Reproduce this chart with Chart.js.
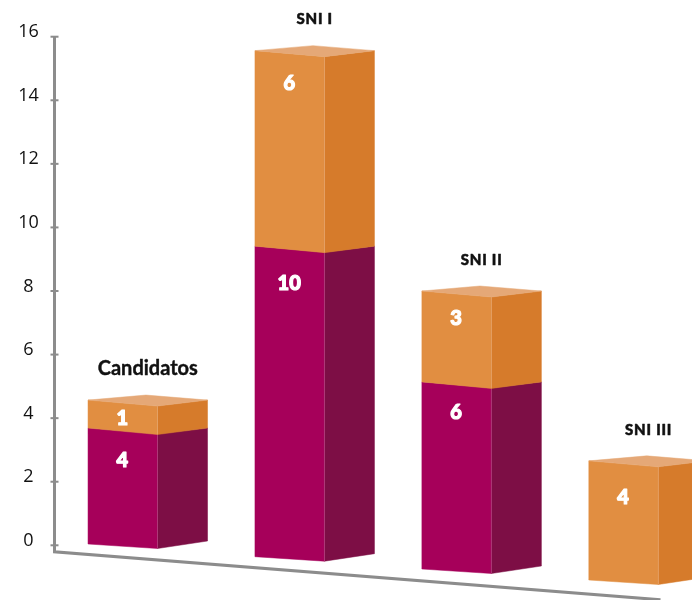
<!DOCTYPE html>
<html>
<head>
<meta charset="utf-8">
<style>
  html, body { margin: 0; background: #fff; overflow: hidden; }
  canvas { display: block; }
</style>
<script src="https://cdn.jsdelivr.net/npm/chart.js@4"></script>
</head>
<body>
<canvas id="myChart" width="692" height="600"></canvas>
<script>
// data
const categories = ["Candidatos", "SNI I", "SNI II", "SNI III"];
const lowerValues = [4, 10, 6, 0];
const upperValues = [1, 6, 3, 4];
const yTicks = [0, 2, 4, 6, 8, 10, 12, 14, 16];

// the picture is in perspective: each bar sits lower and its segments are scaled a little
const barShift = [-1.3, 11.4, 23.7, 34.7];
const lowerScale = [0.912, 0.977, 0.981, 1];
const upperScale = [0.88, 1.025, 0.953, 0.937];
// how far below the top of its segment each number sits
const lowerLabelDrop = [32.5, 37, 31, 0];
const upperLabelDrop = [18, 33, 28, 37];

const sideWidth = 50;

function poly(ctx, pts, color) {
  ctx.beginPath();
  pts.forEach((p, i) => i ? ctx.lineTo(p[0], p[1]) : ctx.moveTo(p[0], p[1]));
  ctx.closePath();
  ctx.fillStyle = color;
  ctx.strokeStyle = color;
  ctx.lineWidth = 0.5;
  ctx.fill();
  ctx.stroke();
}

const box3d = {
  id: "box3d",
  // the plugin draws the faces itself, from the positions of the bar elements
  beforeDatasetDraw() { return false; },
  afterDatasetsDraw(chart) {
    const ctx = chart.ctx;
    const y = chart.scales.y;
    const zero = y.getPixelForValue(0);

    // axes
    ctx.save();
    ctx.strokeStyle = "#8c8c8c";
    ctx.lineWidth = 3;
    ctx.beginPath();
    ctx.moveTo(chart.chartArea.left, y.getPixelForValue(16));
    ctx.lineTo(chart.chartArea.left, zero + 6.5);
    ctx.lineTo(chart.chartArea.left + 606, zero + 54.5);
    ctx.stroke();
    ctx.lineWidth = 2;
    ctx.fillStyle = "#111";
    ctx.font = "18px 'Open Sans'";
    ctx.textAlign = "center";
    ctx.textBaseline = "middle";
    yTicks.forEach(t => {
      const py = y.getPixelForValue(t);
      ctx.beginPath();
      ctx.moveTo(chart.chartArea.left - 4, py);
      ctx.lineTo(chart.chartArea.left + 4, py);
      ctx.stroke();
      ctx.fillText(String(t), 28.5, py - 4.5);
    });
    ctx.restore();

    const pal = [
      { front: "#a6005a", side: "#7d0e45", edge: "#c0488a", drops: lowerLabelDrop, vals: lowerValues, scale: lowerScale },
      { front: "#e18e41", side: "#d67b2b", edge: "#e9ae78", drops: upperLabelDrop, vals: upperValues, scale: upperScale }
    ];

    categories.forEach((name, i) => {
      let cum = zero + barShift[i];
      let apex = 0, cx = 0;
      chart.data.datasets.forEach((ds, d) => {
        const el = chart.getDatasetMeta(d).data[i];
        const c = pal[d];
        if (!c.vals[i]) return;
        const p = el.getProps(["x", "y", "base", "width"], true);
        const x0 = p.x - p.width / 2, x1 = p.x + p.width / 2, x2 = x1 + sideWidth;
        const bot = cum;
        const top = bot - (p.base - p.y) * c.scale[i];
        cum = top;
        // the ground edge is flatter than the upper ones
        const onGround = p.base === zero;
        const botDrop = onGround ? 4.5 : 6.5;
        const botRise = onGround ? 3 : 0;
        poly(ctx, [[x0, top], [x1, top + 6], [x1, bot + botDrop], [x0, bot]], c.front);
        poly(ctx, [[x1, top + 6], [x2, top], [x2, bot - botRise], [x1, bot + botDrop]], c.side);
        ctx.strokeStyle = c.edge;
        ctx.lineWidth = 0.7;
        ctx.beginPath();
        ctx.moveTo(x1, top + 6);
        ctx.lineTo(x1, bot + botDrop);
        ctx.stroke();
        ctx.font = "900 20px Lato";
        ctx.fillStyle = "#fff";
        ctx.strokeStyle = "#fff";
        ctx.lineWidth = 1.2;
        ctx.lineJoin = "round";
        ctx.textAlign = "center";
        ctx.textBaseline = "middle";
        ctx.fillText(String(c.vals[i]), p.x - 0.5, top + c.drops[i]);
        ctx.strokeText(String(c.vals[i]), p.x - 0.5, top + c.drops[i]);
        if (d === 1) {
          poly(ctx, [[x0, top], [x0 + 58, top - 5], [x2, top], [x1, top + 6]], "#e5a877");
          apex = top - 5;
          cx = p.x + 25;
        }
      });
      ctx.fillStyle = "#111";
      ctx.strokeStyle = "#111";
      ctx.textAlign = "center";
      ctx.textBaseline = "middle";
      if (i === 0) {
        ctx.font = "bold 20px Lato";
        ctx.lineWidth = 0.4;
        ctx.fillText(name, cx, apex - 27);
        ctx.strokeText(name, cx, apex - 27);
      } else {
        ctx.font = "900 15px Lato";
        ctx.letterSpacing = "0.8px";
        ctx.lineWidth = 0.5;
        ctx.fillText(name, cx, apex - 26);
        ctx.strokeText(name, cx, apex - 26);
        ctx.letterSpacing = "0px";
      }
    });
  }
};

new Chart(document.getElementById("myChart").getContext("2d"), {
  type: "bar",
  data: {
    datasets: [
      { label: "lower", data: categories.map((c, i) => ({ x: i, y: lowerValues[i] })), backgroundColor: "#a6005a", barThickness: 69.5 },
      { label: "upper", data: categories.map((c, i) => ({ x: i, y: upperValues[i] })), backgroundColor: "#e18e41", barThickness: 69.5 }
    ]
  },
  options: {
    responsive: false,
    animation: false,
    layout: { padding: { left: 54.5, right: 0, top: 36.7, bottom: 54.7 } },
    plugins: { legend: { display: false }, tooltip: { enabled: false } },
    scales: {
      x: { type: "linear", stacked: true, display: false, offset: false, min: -0.409, max: 3.41 },
      y: { stacked: true, display: false, min: 0, max: 16 }
    }
  },
  plugins: [box3d]
});
</script>
</body>
</html>
